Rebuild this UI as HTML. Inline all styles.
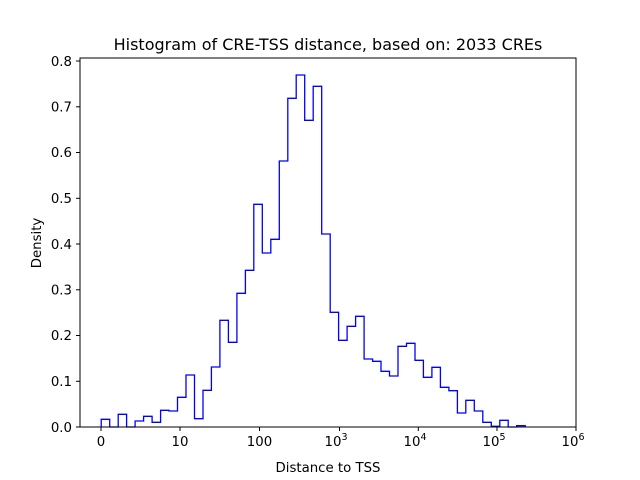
<!DOCTYPE html>
<html><head><meta charset="utf-8"><style>
html,body{margin:0;padding:0;background:#fff;}
svg{display:block;font-family:"DejaVu Sans","Liberation Sans",sans-serif;}
</style></head><body>
<svg width="640" height="480" viewBox="0 0 640 480" xmlns="http://www.w3.org/2000/svg">
<rect width="640" height="480" fill="#fff"/>
<path fill="none" stroke="#0000ff" stroke-width="1.3" d="M101.2,427 V419.3 H109.7 V427 H118.2 V414.3 H126.6 V427 H135.1 V421 H143.6 V416.3 H152.1 V422.3 H160.6 V410.3 H169.0 V411 H177.5 V397.3 H186.0 V375 H194.5 V418.7 H203.0 V390.3 H211.4 V367 H219.9 V320.3 H228.4 V342.3 H236.9 V293.3 H245.4 V270.3 H253.8 V204.3 H262.3 V253 H270.8 V239.3 H279.3 V161 H287.8 V98.3 H296.2 V75 H304.7 V120.3 H313.2 V86.3 H321.7 V234 H330.2 V312.3 H338.6 V340.3 H347.1 V326.3 H355.6 V316.3 H364.1 V359 H372.6 V361.3 H381.0 V371.3 H389.5 V376 H398.0 V346.3 H406.5 V343.3 H415.0 V360.3 H423.4 V377.3 H431.9 V367.3 H440.4 V387.3 H448.9 V390.7 H457.4 V413 H465.8 V400.3 H474.3 V411 H482.8 V422.3 H491.3 V426.3 H499.8 V420.3 H508.2 V427 H516.7 V425.7 H525.2 V427"/>
<rect x="80" y="58" width="496" height="369" fill="none" stroke="#000" stroke-width="1"/>
<g stroke="#000" stroke-width="1">
<line x1="101" y1="427" x2="101" y2="431"/><line x1="180" y1="427" x2="180" y2="431"/><line x1="259.5" y1="427" x2="259.5" y2="431"/><line x1="339.5" y1="427" x2="339.5" y2="431"/><line x1="418.3" y1="427" x2="418.3" y2="431"/><line x1="497" y1="427" x2="497" y2="431"/><line x1="576" y1="427" x2="576" y2="431"/>
<line x1="76" y1="427" x2="80" y2="427"/><line x1="76" y1="381.3" x2="80" y2="381.3"/><line x1="76" y1="335.5" x2="80" y2="335.5"/><line x1="76" y1="289.8" x2="80" y2="289.8"/><line x1="76" y1="244" x2="80" y2="244"/><line x1="76" y1="198.3" x2="80" y2="198.3"/><line x1="76" y1="152.5" x2="80" y2="152.5"/><line x1="76" y1="106.8" x2="80" y2="106.8"/><line x1="76" y1="61" x2="80" y2="61"/>
</g>
<g font-size="13.3" text-anchor="middle" fill="#000">
<text x="101" y="446">0</text><text x="180" y="446">10</text><text x="259.5" y="446">100</text>
<text x="336" y="446">10<tspan font-size="9.5" dy="-6">3</tspan></text>
<text x="415" y="446">10<tspan font-size="9.5" dy="-6">4</tspan></text>
<text x="494" y="446">10<tspan font-size="9.5" dy="-6">5</tspan></text>
<text x="573" y="446">10<tspan font-size="9.5" dy="-6">6</tspan></text>
</g>
<g font-size="13.3" text-anchor="end" fill="#000">
<text x="72" y="432">0.0</text><text x="72" y="386">0.1</text><text x="72" y="340">0.2</text><text x="72" y="294.5">0.3</text><text x="72" y="249">0.4</text><text x="72" y="203">0.5</text><text x="72" y="157">0.6</text><text x="72" y="111.5">0.7</text><text x="72" y="66">0.8</text>
</g>
<text x="328" y="472" font-size="13.3" text-anchor="middle">Distance to TSS</text>
<text transform="translate(41,243) rotate(-90)" font-size="13.3" text-anchor="middle">Density</text>
<text x="328" y="50" font-size="16" text-anchor="middle">Histogram of CRE-TSS distance, based on: 2033 CREs</text>
</svg>
</body></html>
